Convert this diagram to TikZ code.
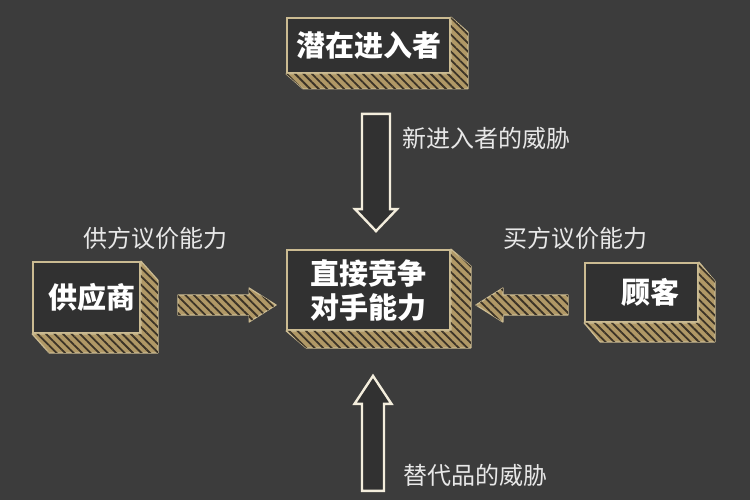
\documentclass[tikz,border=0pt]{standalone}
\usepackage{fontspec}
\usetikzlibrary{calc,patterns.meta}
\newfontfamily\cjk{Noto Sans CJK SC}

\definecolor{bgcol}{HTML}{3C3C3C}
\definecolor{boxfill}{HTML}{313131}
\definecolor{edge}{HTML}{CBBB92}
\definecolor{gold}{HTML}{B09866}
\definecolor{stripe}{HTML}{3B3327}
\definecolor{chalk}{HTML}{F3EDDC}
\definecolor{labelgray}{HTML}{E8E8E8}

% slab under and right of a box: node, dx, dy
\newcommand\slab[3]{%
  \draw [slabface] (#1.north east) -- ++(#2,-#3) -- ([shift={(#2,-#3)}]#1.south east)
    -- ([shift={(#2,-#3)}]#1.south west) -- (#1.south west) -- (#1.south east) -- cycle;}

% block arrow: [style]{start}{end}{shaft half}{head half}{head length}
\newcommand\blockarrow[6][]{%
  \path (#2) coordinate (ba-s) (#3) coordinate (ba-e);
  \path ($(ba-e)!#6!(ba-s)$) coordinate (ba-h);
  \draw [#1] ($(ba-s)!#4!90:(ba-e)$) -- ($(ba-h)!#4!-90:(ba-s)$) -- ($(ba-h)!#5!-90:(ba-s)$)
    -- (ba-e) -- ($(ba-h)!#5!90:(ba-s)$) -- ($(ba-h)!#4!90:(ba-s)$) -- ($(ba-s)!#4!-90:(ba-e)$) -- cycle;}

\begin{document}
\begin{tikzpicture}[x=1pt,y=1pt,
    boxnode/.style={draw=edge, line width=1.8pt, fill=boxfill, text=white, align=center,
      font=\cjk\bfseries\fontsize{29}{34}\selectfont},
    slabface/.style={draw=edge, line width=1.2pt, line join=round, fill=gold,
      postaction={pattern={Lines[angle=-45,distance=6pt,line width=1.8pt]}, pattern color=stripe}},
    hatcharrow/.style={slabface},
    hollowarrow/.style={draw=chalk, line width=2.4pt, line join=miter, fill=boxfill},
    tag/.style={text=labelgray, font=\cjk\fontsize{24}{28}\selectfont}]
    \tikzstyle{every node}+=[inner sep=0pt]
    \fill [bgcol] (0,0) rectangle (750,-500);
    \useasboundingbox (0,0) rectangle (750,-500);

    % the five forces
    \node [boxnode, minimum width=163, minimum height=55] (entrant) at (368.5,-45.5) {潜在进入者};
    \node [boxnode, minimum width=163, minimum height=80] (core) at (368.5,-290) {直接竞争\\对手能力};
    \node [boxnode, minimum width=107, minimum height=71] (supplier) at (86.5,-297.5) {\hspace*{12pt}供应商};
    \node [boxnode, minimum width=113, minimum height=59] (customer) at (641.5,-292.5) {\hspace*{18pt}顾客};
    \slab{entrant}{17}{15}
    \slab{core}{20}{17}
    \slab{supplier}{17}{19}
    \slab{customer}{16}{19}

    % arrows into the centre
    \blockarrow[hollowarrow]{[shift={(7.5,-40)}]entrant.south}{[shift={(7.5,18)}]core.north}{14pt}{21pt}{22pt}
    \blockarrow[hollowarrow]{[shift={(4.5,-160)}]core.south}{[shift={(4.5,-45)}]core.south}{11pt}{18.5pt}{28pt}
    \blockarrow[hatcharrow]{[shift={(37,-7.5)}]supplier.east}{[shift={(-10,-15)}]core.west}{10pt}{17pt}{27pt}
    \blockarrow[hatcharrow]{[shift={(-16,-12.5)}]customer.west}{[shift={(25,-15)}]core.east}{10pt}{17pt}{27pt}

    % labels
    \node [tag, anchor=west] (newthreat) at (402,-138) {新进入者的威胁};
    \node [tag, anchor=west] (subthreat) at (403,-475) {替代品的威胁};
    \node [tag] (supplypower) at (155,-238) {供方议价能力};
    \node [tag] (buypower) at (575,-238) {买方议价能力};
\end{tikzpicture}
\end{document}
